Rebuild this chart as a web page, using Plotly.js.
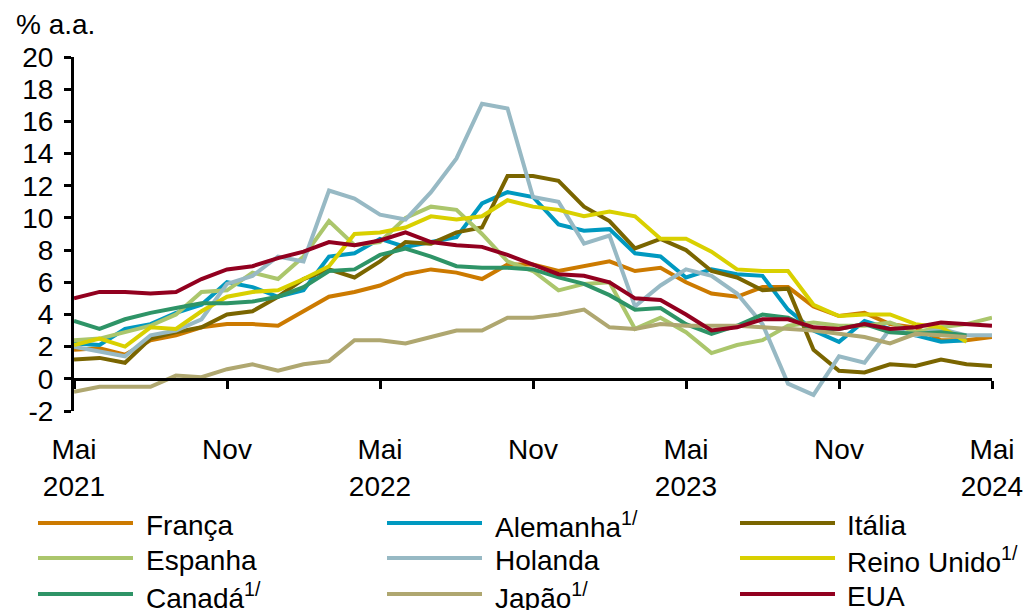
<!DOCTYPE html>
<html>
<head>
<meta charset="utf-8">
<script src="https://cdn.plot.ly/plotly-3.0.1.min.js"></script>
<style>
  html, body { margin: 0; padding: 0; background: #fff; }
</style>
</head>
<body>
<div id="chart" style="width:1029px;height:610px"></div>
<script>
// Monthly consumer inflation, % change over 12 months (May 2021 - May 2024)
const months = [
  'mai/21','jun/21','jul/21','ago/21','set/21','out/21','nov/21','dez/21',
  'jan/22','fev/22','mar/22','abr/22','mai/22','jun/22','jul/22','ago/22','set/22','out/22','nov/22','dez/22',
  'jan/23','fev/23','mar/23','abr/23','mai/23','jun/23','jul/23','ago/23','set/23','out/23','nov/23','dez/23',
  'jan/24','fev/24','mar/24','abr/24','mai/24'
];

const franca   = [1.8, 1.9, 1.5, 2.4, 2.7, 3.2, 3.4, 3.4, 3.3, 4.2, 5.1, 5.4, 5.8, 6.5, 6.8, 6.6, 6.2, 7.1, 7.1, 6.7, 7.0, 7.3, 6.7, 6.9, 6.0, 5.3, 5.1, 5.7, 5.7, 4.5, 3.9, 4.1, 3.4, 3.2, 2.4, 2.4, 2.6];
const alemanha = [2.2, 2.1, 3.1, 3.4, 4.1, 4.6, 6.0, 5.7, 5.1, 5.5, 7.6, 7.8, 8.7, 8.2, 8.5, 8.8, 10.9, 11.6, 11.3, 9.6, 9.2, 9.3, 7.8, 7.6, 6.3, 6.8, 6.5, 6.4, 4.3, 3.0, 2.3, 3.6, 3.1, 2.7, 2.3, 2.4];
const italia   = [1.2, 1.3, 1.0, 2.5, 2.9, 3.2, 4.0, 4.2, 5.1, 6.2, 6.8, 6.3, 7.3, 8.5, 8.4, 9.1, 9.4, 12.6, 12.6, 12.3, 10.7, 9.8, 8.1, 8.7, 8.0, 6.7, 6.3, 5.5, 5.6, 1.8, 0.5, 0.4, 0.9, 0.8, 1.2, 0.9, 0.8];
const espanha  = [2.4, 2.5, 2.9, 3.3, 4.0, 5.4, 5.5, 6.6, 6.2, 7.6, 9.8, 8.3, 8.5, 10.0, 10.7, 10.5, 9.0, 7.3, 6.7, 5.5, 5.9, 6.0, 3.1, 3.8, 2.9, 1.6, 2.1, 2.4, 3.3, 3.5, 3.3, 3.3, 3.5, 2.9, 3.2, 3.4, 3.8];
const holanda  = [2.0, 1.7, 1.4, 2.7, 3.0, 3.7, 5.9, 6.4, 7.6, 7.3, 11.7, 11.2, 10.2, 9.9, 11.6, 13.7, 17.1, 16.8, 11.3, 11.0, 8.4, 8.9, 4.5, 5.8, 6.8, 6.4, 5.3, 3.4, -0.3, -1.0, 1.4, 1.0, 3.1, 2.7, 3.1, 2.7, 2.7];
const reinoUnido = [2.1, 2.5, 2.0, 3.2, 3.1, 4.2, 5.1, 5.4, 5.5, 6.2, 7.0, 9.0, 9.1, 9.4, 10.1, 9.9, 10.1, 11.1, 10.7, 10.5, 10.1, 10.4, 10.1, 8.7, 8.7, 7.9, 6.8, 6.7, 6.7, 4.6, 3.9, 4.0, 4.0, 3.4, 3.2, 2.3];
const canada   = [3.6, 3.1, 3.7, 4.1, 4.4, 4.7, 4.7, 4.8, 5.1, 5.7, 6.7, 6.8, 7.7, 8.1, 7.6, 7.0, 6.9, 6.9, 6.8, 6.3, 5.9, 5.2, 4.3, 4.4, 3.4, 2.8, 3.3, 4.0, 3.8, 3.1, 3.1, 3.4, 2.9, 2.8, 2.9, 2.7];
const japao    = [-0.8, -0.5, -0.5, -0.5, 0.2, 0.1, 0.6, 0.9, 0.5, 0.9, 1.1, 2.4, 2.4, 2.2, 2.6, 3.0, 3.0, 3.8, 3.8, 4.0, 4.3, 3.2, 3.1, 3.4, 3.3, 3.3, 3.3, 3.2, 3.1, 3.0, 2.8, 2.6, 2.2, 2.8, 2.7, 2.6];
const eua      = [5.0, 5.4, 5.4, 5.3, 5.4, 6.2, 6.8, 7.0, 7.5, 7.9, 8.5, 8.3, 8.6, 9.1, 8.5, 8.3, 8.2, 7.7, 7.1, 6.5, 6.4, 6.0, 5.0, 4.9, 4.0, 3.0, 3.2, 3.7, 3.7, 3.2, 3.1, 3.4, 3.1, 3.2, 3.5, 3.4, 3.3];

const seriesNames = ['França', 'Alemanha<sup>1/</sup>', 'Itália', 'Espanha', 'Holanda',
                     'Reino Unido<sup>1/</sup>', 'Canadá<sup>1/</sup>', 'Japão<sup>1/</sup>', 'EUA'];
const seriesValues = [franca, alemanha, italia, espanha, holanda, reinoUnido, canada, japao, eua];

// x-axis ticks: every six months
const tickIdx    = [0, 6, 12, 18, 24, 30, 36];
const tickLabels = ['Mai<br>2021', 'Nov', 'Mai<br>2022', 'Nov', 'Mai<br>2023', 'Nov', 'Mai<br>2024'];

// y-axis ticks
const yTicks    = [-2, 0, 2, 4, 6, 8, 10, 12, 14, 16, 18, 20];
const yTickText = ['-2', '0', '2', '4', '6', '8', '10', '12', '14', '16', '18', '20'];

// ---- styling ----
const colors = ['#CC7A00', '#0099C0', '#7A6500', '#ABC66C', '#97B9C4',
                '#D9D000', '#2E9467', '#AFA770', '#92001F'];
const FONT = '"Liberation Sans", Arial, Helvetica, sans-serif';
const W = 1029, H = 610;
const M = { l: 74, r: 37, t: 57, b: 199 };
const plotW = W - M.l - M.r, plotH = H - M.t - M.b;
const px = x => (x - M.l) / plotW;          // pixel -> paper x
const py = y => (H - M.b - y) / plotH;      // pixel -> paper y

const traces = seriesValues.map((vals, k) => ({
  type: 'scatter',
  mode: 'lines',
  name: seriesNames[k],
  x: vals.map((_, i) => i),
  y: vals,
  text: months.slice(0, vals.length),
  line: { color: colors[k], width: 4 },
  hoverinfo: 'skip'
}));

// Three-column legend below the chart
const legendCols = [{ line: 38, text: 144 }, { line: 387, text: 493 }, { line: 740, text: 845 }];
const legendRows = [523, 558, 594];
const lineLen = 95;
const shapes = [];
const annotations = [];
seriesNames.forEach((name, k) => {
  const c = legendCols[k % 3], r = legendRows[Math.floor(k / 3)];
  shapes.push({
    type: 'line', xref: 'paper', yref: 'paper',
    x0: px(c.line), x1: px(c.line + lineLen), y0: py(r), y1: py(r),
    line: { color: colors[k], width: 4 }
  });
  annotations.push({
    xref: 'paper', yref: 'paper', x: px(c.text), y: py(r + 2),
    xanchor: 'left', yanchor: 'middle', showarrow: false,
    text: name, font: { family: FONT, size: 28, color: '#000' }
  });
});

// unit label
annotations.push({
  xref: 'paper', yref: 'paper', x: px(14), y: py(24),
  xanchor: 'left', yanchor: 'middle', showarrow: false,
  text: '% a.a.', font: { family: FONT, size: 28, color: '#000' }
});

const layout = {
  width: W, height: H,
  margin: { l: M.l, r: M.r, t: M.t, b: M.b, pad: 0 },
  paper_bgcolor: '#fff', plot_bgcolor: '#fff',
  showlegend: false,
  font: { family: FONT, size: 28, color: '#000' },
  // horizontal axis crosses the vertical one at zero
  xaxis: {
    anchor: 'free', position: 2 / 22,
    range: [0, 36], tickmode: 'array', tickvals: tickIdx, ticktext: tickLabels,
    ticks: 'outside', ticklen: 8, tickwidth: 3, tickcolor: '#000',
    showline: true, linewidth: 3, linecolor: '#000',
    showgrid: false, zeroline: false,
    ticklabelstandoff: 37, fixedrange: true
  },
  yaxis: {
    range: [-2, 20], tickmode: 'array', tickvals: yTicks, ticktext: yTickText,
    ticks: 'outside', ticklen: 7, tickwidth: 3, tickcolor: '#000',
    showline: true, linewidth: 3, linecolor: '#000',
    showgrid: false, zeroline: false, ticklabelstandoff: 5, fixedrange: true
  },
  shapes: shapes,
  annotations: annotations
};

Plotly.newPlot('chart', traces, layout, { displayModeBar: false, staticPlot: true });
</script>
</body>
</html>
